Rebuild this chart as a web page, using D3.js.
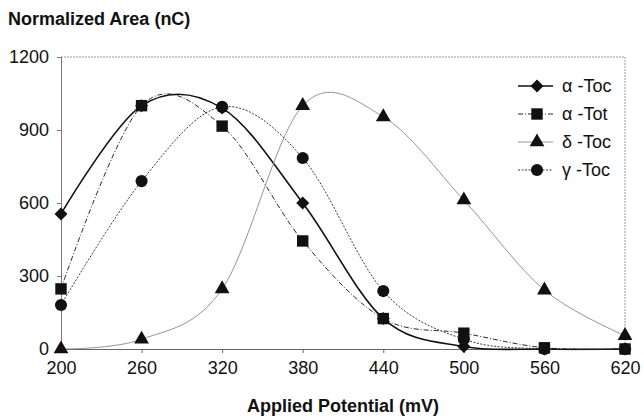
<!DOCTYPE html>
<html>
<head>
<meta charset="utf-8">
<script src="https://cdn.jsdelivr.net/npm/d3@7"></script>
<style>
  body { margin: 0; background: #fff; }
  text { font-family: "Liberation Sans", Arial, sans-serif; }
</style>
</head>
<body>
<script>
// potentials (mV)
const potentials = [200, 260, 320, 380, 440, 500, 560, 620];

// normalized areas (nC) per compound
const alphaToc = [555, 1000, 990, 600, 125, 10, 0, 0];
const alphaTot = [247, 1000, 916, 444, 125, 65, 5, 0];
const deltaToc = [0, 40, 247, 1000, 954, 612, 242, 55];
const gammaToc = [181, 690, 995, 785, 238, 40, 0, 0];

const seriesNames = ["\u03b1 -Toc", "\u03b1 -Tot", "\u03b4  -Toc", "\u03b3  -Toc"];
const yTicks = [0, 300, 600, 900, 1200];

const diamond = d3.symbolSquare;
const series = [
  {name: seriesNames[0], values: alphaToc, symbol: diamond, rot: 45, stroke: "#111", width: 1.6, dash: null, size: 85},
  {name: seriesNames[1], values: alphaTot, symbol: d3.symbolSquare, rot: 0, stroke: "#111", width: 0.9, dash: "5,2,1,2", size: 130},
  {name: seriesNames[2], values: deltaToc, symbol: d3.symbolTriangle, rot: 0, stroke: "#888", width: 0.9, dash: null, size: 95},
  {name: seriesNames[3], values: gammaToc, symbol: d3.symbolCircle, rot: 0, stroke: "#222", width: 0.9, dash: "2,1.5", size: 115}
];

const W = 644, H = 419;
const margin = {top: 57, right: 19, bottom: 70, left: 61};

const svg = d3.select("body").append("svg")
    .attr("width", W)
    .attr("height", H);

const x = d3.scaleLinear()
    .domain([200, 620])
    .range([margin.left, W - margin.right]);

const y = d3.scaleLinear()
    .domain([0, 1200])
    .range([H - margin.bottom, margin.top]);

// frame top / right
svg.append("path")
    .attr("d", `M${x(200)},${y(1200)}H${x(620)}V${y(0)}`)
    .attr("fill", "none")
    .attr("stroke", "#999")
    .attr("stroke-width", 1)
    .attr("stroke-dasharray", "2,1");

// Y axis
const yAxis = svg.append("g")
    .attr("transform", `translate(${margin.left},0)`)
    .call(d3.axisLeft(y).tickValues(yTicks).tickFormat(d3.format("d")).tickSize(4).tickPadding(8));
yAxis.select(".domain").attr("stroke", "#777");
yAxis.selectAll(".tick line").attr("stroke", "#777");
yAxis.selectAll("text").attr("font-size", 18).attr("fill", "#111");

// X axis
const xAxis = svg.append("g")
    .attr("transform", `translate(0,${y(0)})`)
    .call(d3.axisBottom(x).tickValues(potentials).tickSize(4).tickPadding(8));
xAxis.select(".domain").attr("stroke", "#666");
xAxis.selectAll(".tick line").attr("stroke", "#666");
xAxis.selectAll("text").attr("font-size", 18).attr("fill", "#111");

// axis titles
svg.append("text")
    .attr("x", 8).attr("y", 25)
    .attr("font-size", 18).attr("font-weight", "bold")
    .attr("fill", "#111")
    .text("Normalized Area (nC)");

svg.append("text")
    .attr("x", (x(200) + x(620)) / 2).attr("y", 412)
    .attr("text-anchor", "middle")
    .attr("font-size", 18).attr("font-weight", "bold")
    .attr("fill", "#111")
    .text("Applied Potential (mV)");

// smoothed lines
const line = d3.line()
    .x((d, i) => x(potentials[i]))
    .y(d => y(d))
    .curve(d3.curveCardinal.tension(0));

series.forEach(s => {
  svg.append("path")
      .datum(s.values)
      .attr("fill", "none")
      .attr("stroke", s.stroke)
      .attr("stroke-width", s.width)
      .attr("stroke-dasharray", s.dash)
      .attr("d", line);
});

series.forEach(s => {
  svg.append("g").selectAll("path")
    .data(s.values)
    .join("path")
      .attr("transform", (d, i) => `translate(${x(potentials[i])},${y(d)}) rotate(${s.rot})`)
      .attr("d", d3.symbol(s.symbol, s.size))
      .attr("fill", "#111");
});

// legend
const legend = svg.append("g");
series.forEach((s, i) => {
  const ly = 86 + i * 28;
  legend.append("line")
      .attr("x1", 518).attr("x2", 553)
      .attr("y1", ly).attr("y2", ly)
      .attr("stroke", s.stroke)
      .attr("stroke-width", s.width)
      .attr("stroke-dasharray", s.dash);
  legend.append("path")
      .attr("transform", `translate(537,${ly}) rotate(${s.rot})`)
      .attr("d", d3.symbol(s.symbol, s.size))
      .attr("fill", "#111");
  legend.append("text")
      .attr("x", 562).attr("y", ly + 6)
      .attr("font-size", 18)
      .attr("fill", "#111")
      .text(s.name);
});
</script>
</body>
</html>
